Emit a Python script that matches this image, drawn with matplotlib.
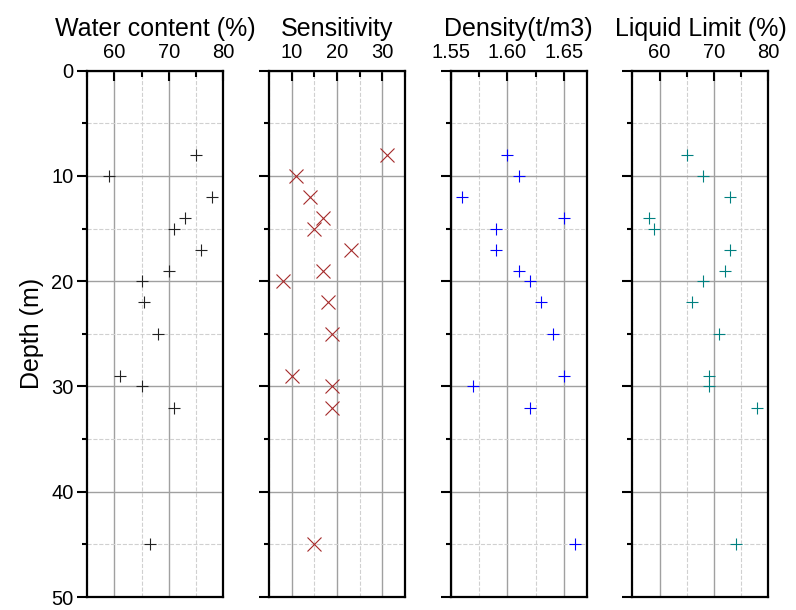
import matplotlib.pyplot as plt
from matplotlib.ticker import MultipleLocator

plt.rcParams['font.family'] = ['Liberation Sans', 'DejaVu Sans']

# sample depths (m), shared by all four profiles
depth = [8, 10, 12, 14, 15, 17, 19, 20, 22, 25, 29, 30, 32, 45]

water_content = [75, 59, 78, 73, 71, 76, 70, 65, 65.5, 68, 61, 65, 71, 66.5]
sensitivity = [31, 11, 14, 17, 15, 23, 17, 8, 18, 19, 10, 19, 19, 15]
density = [1.60, 1.61, 1.56, 1.65, 1.59, 1.59, 1.61, 1.62, 1.63, 1.64,
           1.65, 1.57, 1.62, 1.66]
liquid_limit = [65, 68, 73, 58, 59, 73, 72, 68, 66, 71, 69, 69, 78, 74]

titles = ['Water content (%)', 'Sensitivity', 'Density(t/m3)', 'Liquid Limit (%)']
series = [water_content, sensitivity, density, liquid_limit]
xlims = [(55, 80), (5, 35), (1.55, 1.67), (55, 80)]
xmajor = [10, 10, 0.05, 10]
markers = ['+', 'x', '+', '+']
colors = ['#222222', '#a52a2a', '#0000ff', '#008080']
msizes = [9, 10, 9, 9]

fig, axes = plt.subplots(1, 4, figsize=(7.96, 6.10), dpi=100)
fig.subplots_adjust(left=0.1097, right=0.9652, bottom=0.0213, top=0.8841,
                    wspace=0.338)

for ax, vals, title, xl, xm, mk, c, ms in zip(axes, series, titles, xlims,
                                              xmajor, markers, colors, msizes):
    ax.plot(vals, depth, linestyle='none', marker=mk, color=c,
            markersize=ms, markeredgewidth=0.8)
    ax.set_xlim(*xl)
    ax.set_ylim(50, 0)
    ax.xaxis.set_major_locator(MultipleLocator(xm))
    ax.xaxis.set_minor_locator(MultipleLocator(xm / 2))
    ax.yaxis.set_major_locator(MultipleLocator(10))
    ax.yaxis.set_minor_locator(MultipleLocator(5))
    if xm < 1:
        ax.xaxis.set_major_formatter(plt.FormatStrFormatter('%.2f'))

    ax.xaxis.tick_top()
    ax.tick_params(axis='x', which='both', direction='in', top=True,
                   bottom=False, labelsize=14.5, pad=6)
    ax.tick_params(axis='x', which='major', length=7, width=1.5)
    ax.tick_params(axis='x', which='minor', length=4, width=1.5)
    ax.tick_params(axis='y', which='major', direction='out', length=7,
                   width=1.5, labelsize=14.5, pad=3, right=False)
    ax.tick_params(axis='y', which='minor', direction='out', length=3.5,
                   width=1.5, right=False)

    ax.grid(which='major', color='#a0a0a0', linewidth=1.0, linestyle='-')
    ax.grid(which='minor', color='#d0d0d0', linewidth=0.8, linestyle='--')
    ax.set_axisbelow(True)
    for sp in ax.spines.values():
        sp.set_linewidth(1.6)

    ax.set_title(title, fontsize=18, pad=5)
    if ax is not axes[0]:
        ax.tick_params(axis='y', labelleft=False)

axes[0].set_ylabel('Depth (m)', fontsize=18, labelpad=5)

fig.savefig('out.png', dpi=100)
